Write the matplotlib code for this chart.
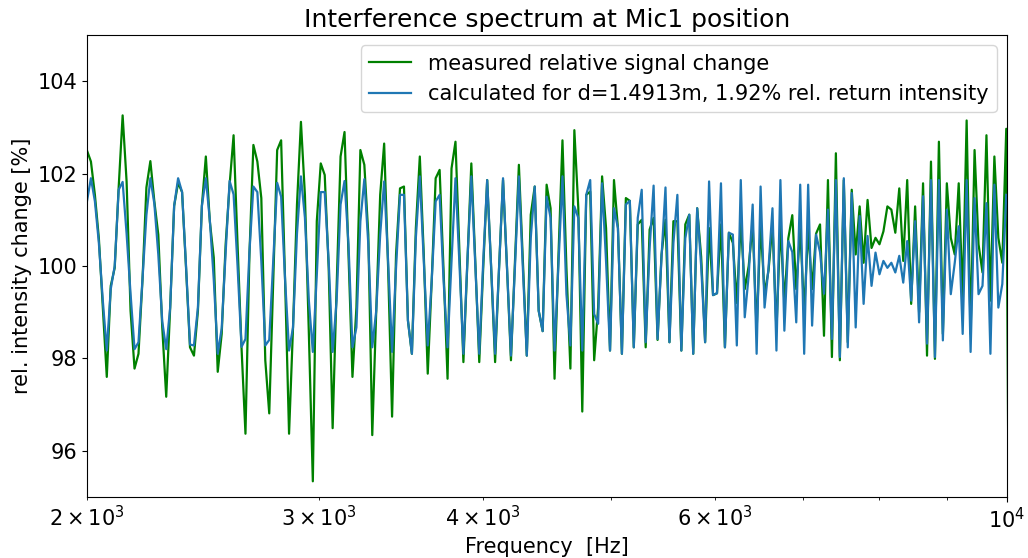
import numpy as np
import matplotlib
matplotlib.use("Agg")
import matplotlib.pyplot as plt

# values, one per 1/100 octave starting at 2 kHz
calc = [101.4, 101.9, 101.4, 100.5, 99.25, 98.17, 99.5, 100.0, 101.65, 101.82,
        100.7, 99.4, 98.2, 98.35, 99.7, 101.1, 101.9, 101.35, 100.25, 98.8,
        98.2, 99.1, 101.3, 101.9, 101.6, 100.0, 98.3, 98.28, 99.1, 101.3,
        101.9, 101.0, 99.7, 98.1, 98.65, 100.3, 101.84, 101.55, 100.0, 98.25,
        98.42, 100.3, 101.72, 101.6, 100.1, 98.28, 98.4, 100.1, 101.8, 101.5,
        99.7, 98.17, 98.67, 100.7, 101.94, 101.05, 99.25, 98.14, 99.8, 101.6,
        101.6, 100.1, 98.14, 99.25, 101.33, 101.84, 100.47, 98.24, 98.67, 100.97,
        101.88, 100.47, 98.24, 99.03, 100.68, 101.83, 100.1, 98.14, 99.96, 101.54,
        101.54, 98.82, 98.1, 100.61, 101.94, 100.1, 98.28, 99.68, 101.4, 101.54,
        99.68, 98.24, 100.1, 101.9, 100.04, 98.1, 100.1, 101.94, 100.04, 98.1,
        100.1, 101.86, 99.96, 98.1, 99.96, 101.9, 99.96, 98.06, 99.96, 101.94,
        99.96, 98.06, 100.61, 101.72, 99.03, 98.59, 101.5, 101.04, 98.17, 100.04,
        101.94, 99.39, 98.28, 101.29, 101.04, 98.17, 101.54, 101.86, 98.96, 98.75,
        101.79, 100.1, 98.17, 101.25, 100.82, 98.1, 101.33, 101.41, 98.24, 101.04,
        101.65, 98.35, 100.4, 101.74, 98.42, 100.2, 101.7, 98.35, 100.5, 101.54,
        98.17, 100.6, 101.11, 98.1, 101.25, 100.0, 98.35, 101.83, 99.37, 99.41,
        101.79, 98.24, 100.72, 100.68, 98.28, 101.86, 98.89, 99.8, 101.33, 98.1,
        101.72, 99.1, 99.96, 101.25, 98.17, 101.86, 98.6, 100.54, 100.3, 98.78,
        101.76, 98.1, 101.76, 98.71, 100.68, 100.3, 99.4, 101.22, 98.42, 101.86,
        98.03, 101.9, 98.24, 101.58, 98.67, 101.08, 99.18, 100.65, 99.57, 100.29,
        99.82, 100.11, 99.96, 100.07, 99.86, 100.22, 99.64, 100.54, 99.25, 100.97,
        98.78, 101.51, 98.32, 101.86, 98.03, 101.86, 98.39, 101.22, 99.39, 100.07,
        100.86, 98.53, 101.86, 98.14, 101.47, 99.39, 99.57, 101.36, 98.1, 101.76,
        99.1, 99.61, 101.54]

meas = [102.5, 102.26, 101.54, 100.6, 99.1, 97.6, 99.57, 99.96, 101.7, 103.26,
        101.83, 99.03, 97.78, 98.1, 99.68, 101.7, 102.27, 101.4, 100.68, 98.67,
        97.17, 99.1, 101.3, 101.8, 101.6, 99.96, 98.24, 98.06, 99.03, 101.3,
        102.37, 100.97, 100.18, 97.71, 98.53, 100.47, 101.76, 102.83, 100.47, 98.24,
        96.37, 100.25, 102.62, 102.26, 101.47, 97.96, 96.81, 99.68, 102.51, 102.72,
        99.68, 96.37, 98.67, 101.33, 103.12, 101.54, 98.53, 95.34, 100.97, 102.22,
        101.97, 99.96, 96.49, 99.53, 102.37, 102.9, 100.25, 97.6, 99.1, 102.51,
        102.19, 100.68, 96.34, 99.03, 101.54, 102.65, 99.96, 96.74, 100.25, 101.68,
        101.72, 98.82, 98.1, 100.82, 102.37, 100.25, 97.67, 99.68, 101.9, 102.08,
        99.89, 97.56, 102.11, 102.69, 100.32, 97.92, 100.1, 102.22, 100.1, 97.92,
        99.96, 101.86, 99.96, 97.92, 99.96, 101.86, 99.96, 97.96, 100.1, 102.19,
        100.1, 98.06, 101.11, 101.72, 99.03, 98.59, 101.76, 101.25, 97.56, 100.25,
        102.72, 99.96, 97.78, 102.94, 101.25, 96.85, 101.54, 101.61, 97.96, 99.1,
        101.94, 100.82, 98.17, 101.86, 100.82, 98.1, 101.47, 101.41, 98.24, 100.9,
        101.0, 98.24, 100.79, 101.04, 98.4, 100.25, 101.0, 98.35, 100.97, 100.97,
        98.17, 100.9, 101.11, 98.1, 101.25, 100.2, 98.35, 100.82, 99.37, 99.41,
        100.9, 98.24, 100.72, 100.5, 99.2, 100.97, 99.5, 100.0, 100.9, 98.6,
        100.9, 99.4, 99.9, 100.9, 98.6, 100.9, 99.2, 100.6, 101.1, 99.5,
        100.8, 99.0, 100.8, 99.5, 100.7, 100.9, 98.49, 101.86, 98.03, 102.44,
        97.96, 101.86, 98.35, 101.65, 100.25, 101.29, 100.07, 101.43, 100.39, 100.61,
        100.47, 100.75, 101.29, 101.22, 100.72, 101.68, 100.11, 101.86, 99.18, 101.29,
        99.0, 101.79, 98.06, 102.26, 97.99, 102.69, 98.53, 101.79, 100.61, 100.25,
        101.79, 99.3, 103.15, 98.53, 102.51, 100.47, 99.86, 102.83, 99.25, 102.37,
        100.61, 100.07, 102.97, 89.0]

f_start = 2000.0   # Hz
per_octave = 100   # points per octave
freq = f_start * 2 ** (np.arange(len(meas)) / per_octave)

fig = plt.figure(figsize=(10.28, 5.58), dpi=100)
ax = fig.add_axes([0.0846, 0.1093, 0.895, 0.828])

ax.plot(freq, meas, color="green", lw=1.6, label="measured relative signal change")
ax.plot(freq[:len(calc)], calc, color="tab:blue", lw=1.6,
        label="calculated for d=1.4913m, 1.92% rel. return intensity")

ax.set_xscale("log")
ax.set_xlim(2000, 10000)
ax.set_ylim(95, 105)
ax.tick_params(which="both", labelsize=15)

ax.set_title("Interference spectrum at Mic1 position", fontsize=18)
ax.set_xlabel("Frequency  [Hz]", fontsize=15)
ax.set_ylabel("rel. intensity change [%]", fontsize=15)
ax.legend(loc="upper right", fontsize=15)

fig.savefig("out.png", dpi=100)
